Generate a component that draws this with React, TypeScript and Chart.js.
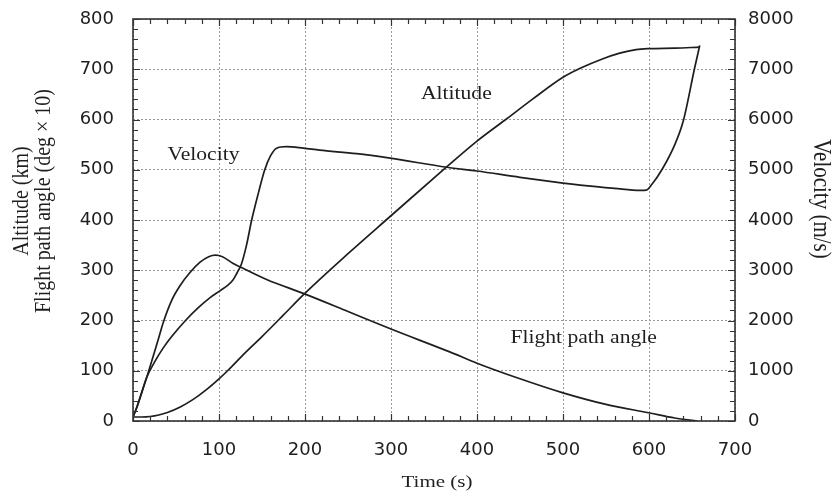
import React, { useEffect, useRef } from "react";
import { Chart, registerables } from "chart.js";

Chart.register(...registerables);

// Ascent trajectory: altitude (km), velocity (m/s), flight path angle (deg x 10) vs time (s)
const altitudeTime = [0, 10, 20, 30, 40, 55, 70, 85, 100, 110, 130, 150, 175, 198, 250, 297, 365, 400, 435, 465, 500, 520, 545, 566, 585, 600, 630, 659];
const altitudeKm = [8, 8, 9, 12, 17, 28, 43, 62, 84, 100, 135, 168, 211, 251, 333, 404, 506, 557, 602, 641, 684, 702, 720, 732, 739, 741, 742, 744];

const velocityTime = [0, 5, 16, 25, 35, 45, 60, 75, 90, 101, 110, 116, 121, 126, 132, 138, 146, 153, 160, 167, 178, 198, 217, 260, 299, 365, 400, 450, 500, 520, 560, 590, 597, 603, 616, 630, 640, 653, 659];
const velocityMs = [80, 300, 870, 1170, 1450, 1680, 1980, 2240, 2460, 2590, 2700, 2800, 2950, 3120, 3500, 4000, 4550, 4990, 5280, 5430, 5460, 5430, 5390, 5320, 5230, 5050, 4975, 4850, 4735, 4695, 4630, 4590, 4595, 4700, 5030, 5500, 5980, 7020, 7475];

const angleTime = [0, 5, 16, 29, 35, 45, 55, 66, 78, 88, 96, 104, 116, 130, 156, 198, 250, 300, 369, 400, 450, 500, 550, 601, 630, 656];
const angleDeg10 = [8, 30, 87, 160, 195, 240, 270, 295, 316, 327, 330, 327, 314, 302, 281, 254, 218, 183, 137, 115, 84, 56, 33, 16, 6, 0];

// Axis tick values
const timeTicks = [0, 100, 200, 300, 400, 500, 600, 700];
const leftTicks = [0, 100, 200, 300, 400, 500, 600, 700, 800];
const rightTicks = [0, 1000, 2000, 3000, 4000, 5000, 6000, 7000, 8000];

// In-plot curve names, anchored in data coordinates (time, left-axis level)
const curveLabelText = ["Altitude", "Velocity", "Flight path angle"];
const curveLabelTime = [376, 82, 524];
const curveLabelLevel = [651, 529, 165];

const INK = "#1e1e1e";
const SERIF = "'Liberation Serif', 'Times New Roman', serif";
const STRETCH = 1.2;

function stretchedText(ctx: CanvasRenderingContext2D, text: string, x: number, y: number, rot: number, size: number) {
  ctx.save();
  ctx.translate(x, y);
  ctx.scale(STRETCH, 1);
  ctx.rotate(rot);
  ctx.font = `${size}px ${SERIF}`;
  ctx.fillStyle = INK;
  ctx.textAlign = "center";
  ctx.textBaseline = "middle";
  ctx.fillText(text, 0, 0);
  ctx.restore();
}

const frameAndLabels = {
  id: "frameAndLabels",
  afterDatasetsDraw(chart: any) {
    const { ctx, chartArea, scales } = chart;
    const { left, right, top, bottom } = chartArea;
    const xs = scales.x;
    const ys = scales.y;

    ctx.save();
    ctx.strokeStyle = "#333";
    ctx.lineWidth = 1.2;
    ctx.beginPath();
    // inward tick marks every 20 s along top and bottom
    for (let t = 0; t <= 700; t += 20) {
      const px = Math.round(xs.getPixelForValue(t)) + 0.5;
      const len = t % 100 === 0 ? 7 : 5;
      ctx.moveTo(px, bottom);
      ctx.lineTo(px, bottom - len);
      ctx.moveTo(px, top);
      ctx.lineTo(px, top + len);
    }
    // inward tick marks every 20 km (200 m/s) on both sides
    for (let v = 0; v <= 800; v += 20) {
      const py = Math.round(ys.getPixelForValue(v)) + 0.5;
      const len = v % 100 === 0 ? 7 : 5;
      ctx.moveTo(left, py);
      ctx.lineTo(left + len, py);
      ctx.moveTo(right, py);
      ctx.lineTo(right - len, py);
    }
    ctx.stroke();

    ctx.strokeStyle = "#333";
    ctx.lineWidth = 1.6;
    ctx.strokeRect(left, top, right - left, bottom - top);
    ctx.restore();

    // curve names
    for (let i = 0; i < curveLabelText.length; i++) {
      const px = xs.getPixelForValue(curveLabelTime[i]);
      const py = ys.getPixelForValue(curveLabelLevel[i]);
      stretchedText(ctx, curveLabelText[i], px, py, 0, 18);
    }

    // axis titles
    stretchedText(ctx, "Time (s)", (left + right) / 2 + 3, 482, 0, 17.5);
    stretchedText(ctx, "Altitude (km)", 22, 201, -Math.PI / 2, 20);
    stretchedText(ctx, "Flight path angle (deg \u00d7 10)", 44, 201, -Math.PI / 2, 20);
    stretchedText(ctx, "Velocity (m/s)", 821, 199, Math.PI / 2, 21);
  },
};

const tickFont = { family: "'DejaVu Sans', sans-serif", size: 18 };
const gridStyle = { color: "#9a9a9a", lineWidth: 1, drawTicks: false };
const plainNumber = (v: number | string) => String(v);

// fixed axis box sizes; label overflow is absorbed by the layout padding
const fixWidth = (w: number) => (s: any) => {
  s.width = w;
  s.paddingTop = 0;
  s.paddingBottom = 0;
};

export default function App() {
  const canvasRef = useRef<HTMLCanvasElement>(null);

  useEffect(() => {
    const toPoints = (xs: number[], ys: number[]) => xs.map((x, i) => ({ x, y: ys[i] }));
    const line = {
      borderColor: INK,
      borderWidth: 1.7,
      pointRadius: 0,
      fill: false,
      cubicInterpolationMode: "monotone" as const,
    };

    const chart = new Chart(canvasRef.current!, {
      type: "line",
      data: {
        datasets: [
          { label: "Altitude", data: toPoints(altitudeTime, altitudeKm), yAxisID: "y", ...line },
          { label: "Velocity", data: toPoints(velocityTime, velocityMs), yAxisID: "y1", ...line },
          { label: "Flight path angle", data: toPoints(angleTime, angleDeg10), yAxisID: "y", ...line },
        ],
      },
      options: {
        responsive: false,
        animation: false,
        layout: { padding: { top: 19, left: 0, right: 0, bottom: 0 } },
        plugins: { legend: { display: false }, tooltip: { enabled: false } },
        scales: {
          x: {
            type: "linear",
            position: "bottom",
            min: 0,
            max: 700,
            afterBuildTicks: (s: any) => {
              s.ticks = timeTicks.map((value) => ({ value }));
            },
            afterFit: (s: any) => {
              s.height = 76;
              s.paddingLeft = 0;
              s.paddingRight = 0;
            },
            ticks: { font: tickFont, color: INK, padding: 19, maxRotation: 0, callback: plainNumber },
            grid: gridStyle,
            border: { display: false, dash: [2, 2] },
          },
          y: {
            type: "linear",
            position: "left",
            min: 0,
            max: 800,
            afterBuildTicks: (s: any) => {
              s.ticks = leftTicks.map((value) => ({ value }));
            },
            afterFit: fixWidth(133),
            ticks: { font: tickFont, color: INK, padding: 19, callback: plainNumber },
            grid: gridStyle,
            border: { display: false, dash: [2, 2] },
          },
          y1: {
            type: "linear",
            position: "right",
            min: 0,
            max: 8000,
            afterBuildTicks: (s: any) => {
              s.ticks = rightTicks.map((value) => ({ value }));
            },
            afterFit: fixWidth(100),
            ticks: { font: tickFont, color: INK, padding: 13, callback: plainNumber },
            grid: { drawOnChartArea: false, drawTicks: false },
            border: { display: false },
          },
        },
      },
      plugins: [frameAndLabels],
    });

    return () => chart.destroy();
  }, []);

  return (
    <div style={{ position: "absolute", left: 0, top: 0, width: 835, height: 497, background: "#fff" }}>
      <canvas ref={canvasRef} width={835} height={497} style={{ display: "block", width: 835, height: 497 }} />
    </div>
  );
}
